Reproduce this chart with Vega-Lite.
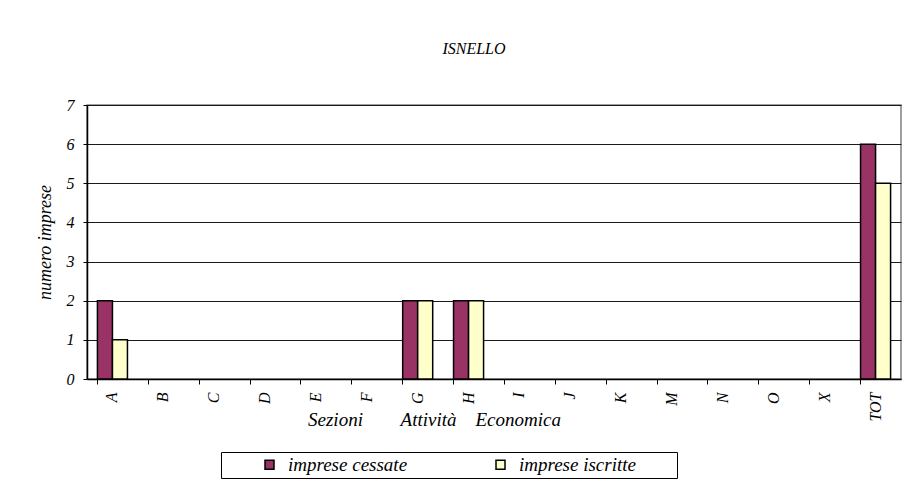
{
  "$schema": "https://vega.github.io/schema/vega-lite/v6.json",
  "width": 814,
  "height": 274,
  "autosize": {"type": "none"},
  "padding": {"left": 87, "top": 105, "right": 20, "bottom": 114},
  "background": "white",
  "title": {
    "text": "ISNELLO",
    "font": "Liberation Serif",
    "fontStyle": "italic",
    "fontWeight": "normal",
    "fontSize": 16,
    "color": "black",
    "anchor": "middle",
    "baseline": "alphabetic",
    "dx": -20,
    "offset": 27
  },
  "data": {
    "values": [
      {"sezione": "A", "serie": "imprese cessate", "valore": 2},
      {"sezione": "A", "serie": "imprese iscritte", "valore": 1},
      {"sezione": "B", "serie": "imprese cessate", "valore": 0},
      {"sezione": "B", "serie": "imprese iscritte", "valore": 0},
      {"sezione": "C", "serie": "imprese cessate", "valore": 0},
      {"sezione": "C", "serie": "imprese iscritte", "valore": 0},
      {"sezione": "D", "serie": "imprese cessate", "valore": 0},
      {"sezione": "D", "serie": "imprese iscritte", "valore": 0},
      {"sezione": "E", "serie": "imprese cessate", "valore": 0},
      {"sezione": "E", "serie": "imprese iscritte", "valore": 0},
      {"sezione": "F", "serie": "imprese cessate", "valore": 0},
      {"sezione": "F", "serie": "imprese iscritte", "valore": 0},
      {"sezione": "G", "serie": "imprese cessate", "valore": 2},
      {"sezione": "G", "serie": "imprese iscritte", "valore": 2},
      {"sezione": "H", "serie": "imprese cessate", "valore": 2},
      {"sezione": "H", "serie": "imprese iscritte", "valore": 2},
      {"sezione": "I", "serie": "imprese cessate", "valore": 0},
      {"sezione": "I", "serie": "imprese iscritte", "valore": 0},
      {"sezione": "J", "serie": "imprese cessate", "valore": 0},
      {"sezione": "J", "serie": "imprese iscritte", "valore": 0},
      {"sezione": "K", "serie": "imprese cessate", "valore": 0},
      {"sezione": "K", "serie": "imprese iscritte", "valore": 0},
      {"sezione": "M", "serie": "imprese cessate", "valore": 0},
      {"sezione": "M", "serie": "imprese iscritte", "valore": 0},
      {"sezione": "N", "serie": "imprese cessate", "valore": 0},
      {"sezione": "N", "serie": "imprese iscritte", "valore": 0},
      {"sezione": "O", "serie": "imprese cessate", "valore": 0},
      {"sezione": "O", "serie": "imprese iscritte", "valore": 0},
      {"sezione": "X", "serie": "imprese cessate", "valore": 0},
      {"sezione": "X", "serie": "imprese iscritte", "valore": 0},
      {"sezione": "TOT", "serie": "imprese cessate", "valore": 6},
      {"sezione": "TOT", "serie": "imprese iscritte", "valore": 5}
    ]
  },
  "mark": {"type": "bar", "stroke": "black", "strokeWidth": 1.5},
  "encoding": {
    "x": {
      "field": "sezione",
      "type": "nominal",
      "sort": ["A","B","C","D","E","F","G","H","I","J","K","M","N","O","X","TOT"],
      "scale": {"paddingInner": 0.41, "paddingOuter": 0.205},
      "axis": {
        "title": "Sezioni\u00a0\u00a0\u00a0\u00a0\u00a0\u00a0\u00a0 Attività\u00a0\u00a0\u00a0 Economica",
        "titleFont": "Liberation Serif",
        "titleFontStyle": "italic",
        "titleFontWeight": "normal",
        "titleFontSize": 19,
        "titleColor": "black",
        "titleX": 347,
        "titleY": 46,
        "titleAlign": "center",
        "titleBaseline": "alphabetic",
        "labelAngle": -90,
        "labelFont": "Liberation Serif",
        "labelFontStyle": "italic",
        "labelFontSize": 16,
        "labelColor": "black",
        "labelPadding": 8,
        "bandPosition": 0,
        "ticks": true,
        "tickSize": 5,
        "tickColor": "black",
        "domainColor": "black",
        "domainWidth": 1.5,
        "grid": false
      }
    },
    "xOffset": {
      "field": "serie",
      "type": "nominal",
      "sort": ["imprese cessate", "imprese iscritte"],
      "scale": {"paddingInner": 0, "paddingOuter": 0}
    },
    "y": {
      "field": "valore",
      "type": "quantitative",
      "scale": {"domain": [0, 7], "nice": false},
      "axis": {
        "title": "numero imprese",
        "titleFont": "Liberation Serif",
        "titleFontStyle": "italic",
        "titleFontWeight": "normal",
        "titleFontSize": 18,
        "titleColor": "black",
        "titlePadding": 12,
        "values": [0,1,2,3,4,5,6,7],
        "labelFont": "Liberation Serif",
        "labelFontStyle": "italic",
        "labelFontSize": 16,
        "labelColor": "black",
        "labelPadding": 9,
        "tickSize": 4,
        "tickColor": "black",
        "domainColor": "black",
        "domainWidth": 1.5,
        "grid": true,
        "gridColor": "#1a1a1a",
        "gridWidth": 1
      }
    },
    "strokeOpacity": {
      "condition": {"test": "datum.valore === 0", "value": 0},
      "value": 1
    },
    "color": {
      "field": "serie",
      "type": "nominal",
      "scale": {"domain": ["imprese cessate", "imprese iscritte"], "range": ["#993366", "#FFFFCC"]},
      "legend": {
        "title": null,
        "orient": "none",
        "legendX": 134,
        "legendY": 347,
        "direction": "horizontal",
        "strokeColor": "black",
        "fillColor": "white",
        "padding": 3,
        "symbolType": "square",
        "symbolSize": 81,
        "symbolStrokeColor": "black",
        "symbolStrokeWidth": 1.5,
        "symbolOpacity": 1,
        "symbolOffset": 36,
        "labelFont": "Liberation Serif",
        "labelFontStyle": "italic",
        "labelFontSize": 19,
        "labelColor": "black",
        "labelOffset": 9,
        "labelLimit": 400,
        "labelExpr": "datum.value === 'imprese iscritte' ? datum.label + '\u00a0\u00a0\u00a0\u00a0\u00a0\u00a0\u00a0\u00a0\u200b' : datum.label",
        "columnPadding": 47
      }
    }
  },
  "config": {
    "font": "Liberation Serif",
    "view": {"stroke": "#808080", "strokeWidth": 1.5}
  }
}
